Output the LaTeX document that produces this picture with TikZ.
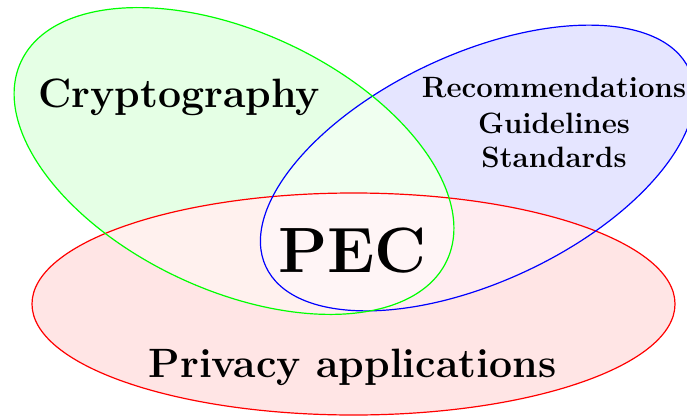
\documentclass[tikz,border=0pt]{standalone}
\begin{document}
\definecolor{gfill}{RGB}{229,255,229}
\definecolor{bfill}{RGB}{229,229,255}
\definecolor{rfill}{RGB}{255,229,229}
\definecolor{gbfill}{RGB}{240,255,240}
\definecolor{grfill}{RGB}{255,241,238}
\definecolor{brfill}{RGB}{255,236,240}
\definecolor{gbrfill}{RGB}{255,245,246}
\begin{tikzpicture}[x=1pt,y=1pt,
  outline/.style={line width=1.2pt},
  bigtext/.style={inner sep=0pt,anchor=base,font=\bfseries\fontsize{41}{49}\selectfont},
  pectext/.style={inner sep=0pt,anchor=base,font=\bfseries\fontsize{64}{76}\selectfont},
  smalltext/.style={inner sep=0pt,anchor=base,font=\bfseries\fontsize{29.4}{35}\selectfont}]
\useasboundingbox (0,0) rectangle (687,416);
\def\GreenEll{(234,255) ellipse [x radius=235, y radius=129, rotate=-25]}
\def\BlueEll{(477.5,248) ellipse [x radius=233.5, y radius=114, rotate=25]}
\def\RedEll{(353.5,112) ellipse [x radius=321.5, y radius=111]}
% base fills
\fill[gfill] \GreenEll;
\fill[bfill] \BlueEll;
\fill[rfill] \RedEll;
% overlaps
\begin{scope}\clip \GreenEll; \fill[gbfill] \BlueEll; \end{scope}
\begin{scope}\clip \GreenEll; \fill[grfill] \RedEll; \end{scope}
\begin{scope}\clip \BlueEll; \fill[brfill] \RedEll; \end{scope}
\begin{scope}\clip \GreenEll; \clip \BlueEll; \fill[gbrfill] \RedEll; \end{scope}
% outlines
\draw[outline,red] \RedEll;
\draw[outline,blue] \BlueEll;
\draw[outline,green] \GreenEll;
% texts
\node[bigtext] (crypto) at (179,309) {Cryptography};
\node[smalltext] (rec) at (554,319) {Recommendations};
\node[smalltext] (gui) at (554,283) {Guidelines};
\node[smalltext] (sta) at (554,249) {Standards};
\node[pectext] (pec) at (352.5,144) {PEC};
\node[bigtext] (priv) at (352.5,39) {Privacy applications};
\end{tikzpicture}
\end{document}
